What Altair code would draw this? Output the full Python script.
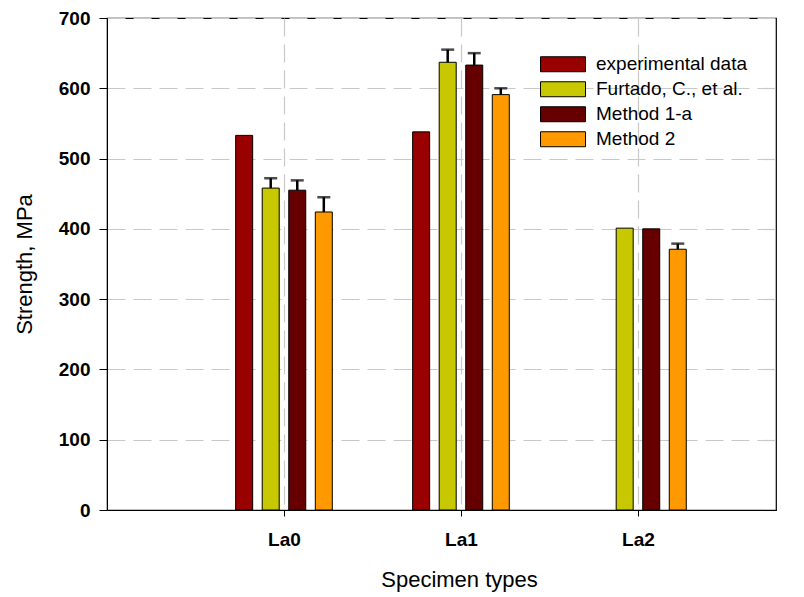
import altair as alt
import pandas as pd

groups = ["La0", "La1", "La2"]
series = ["experimental data", "Furtado, C., et al.", "Method 1-a", "Method 2"]
colors = ["#990000", "#C8C800", "#660000", "#FF9900"]

exp_vals = [533, 538, None]
furtado_vals = [458, 637, 401]
furtado_err = [472, 655, None]
m1a_vals = [455, 633, 400]
m1a_err = [469, 650, None]
m2_vals = [424, 591, 371]
m2_err = [445, 600, 379]

offsets = [-0.225, -0.075, 0.075, 0.225]
half_w = 0.048

rows = []
all_vals = [exp_vals, furtado_vals, m1a_vals, m2_vals]
all_errs = [[None, None, None], furtado_err, m1a_err, m2_err]
for si, s in enumerate(series):
    for gi, g in enumerate(groups):
        v = all_vals[si][gi]
        if v is None:
            continue
        c = gi + 1 + offsets[si]
        rows.append({"series": s, "group": g, "value": v, "err": all_errs[si][gi],
                     "xc": c, "xl": c - half_w, "xr": c + half_w})
df = pd.DataFrame(rows)

xscale = alt.Scale(domain=[0, 3.78], nice=False, zero=False)
yscale = alt.Scale(domain=[0, 700], nice=False)

label_expr = "datum.value == 1 ? 'La0' : datum.value == 2 ? 'La1' : datum.value == 3 ? 'La2' : ''"

bars = alt.Chart(df).mark_rect(stroke="black", strokeWidth=1).encode(
    x=alt.X("xl:Q", scale=xscale, axis=alt.Axis(
        values=[1, 2, 3], labelExpr=label_expr, title="Specimen types",
        grid=True, gridDash=[18, 8], gridColor="#c8c8c8", gridWidth=1.2,
        labelFont="Liberation Sans", labelFontWeight="bold", labelFontSize=19,
        labelColor="black", labelPadding=14,
        titleFont="Liberation Sans", titleFontWeight="normal", titleFontSize=22,
        titleColor="black", titlePadding=20, titleX=352, titleAlign="center",
        domainColor="black", tickColor="black", tickSize=6)),
    x2="xr:Q",
    y=alt.Y("value:Q", scale=yscale, axis=alt.Axis(
        values=[0, 100, 200, 300, 400, 500, 600, 700], title="Strength, MPa",
        grid=True, gridDash=[18, 8], gridColor="#c8c8c8", gridWidth=1.2,
        labelFont="Liberation Sans", labelFontWeight="bold", labelFontSize=19,
        labelColor="black", labelPadding=9,
        titleFont="Liberation Sans", titleFontWeight="normal", titleFontSize=22,
        titleColor="black", titlePadding=22,
        domainColor="black", tickColor="black", tickSize=8)),
    y2=alt.datum(0),
    color=alt.Color("series:N", scale=alt.Scale(domain=series, range=colors),
                    legend=alt.Legend(
                        title=None, orient="none", legendX=433, legendY=34,
                        symbolType="M-1,-0.333H1V0.333H-1Z", symbolSize=2025,
                        symbolStrokeColor="black", symbolStrokeWidth=1,
                        clipHeight=24.5, rowPadding=0,
                        labelFont="Liberation Sans", labelFontSize=19,
                        labelColor="black", labelOffset=10)),
)

errdf = df.dropna(subset=["err"])
err_rule = alt.Chart(errdf).mark_rule(color="black", strokeWidth=2.5).encode(
    x=alt.X("xc:Q", scale=xscale),
    y=alt.Y("value:Q", scale=yscale),
    y2="err:Q",
)
err_cap = alt.Chart(errdf).mark_tick(color="black", thickness=2.5, size=13, orient="horizontal").encode(
    x=alt.X("xc:Q", scale=xscale),
    y=alt.Y("err:Q", scale=yscale),
)

chart = alt.layer(bars, err_rule, err_cap).properties(
    width=669, height=492,
    padding={"left": 107, "top": 18, "right": 28, "bottom": 87},
    autosize=alt.AutoSizeParams(type="none"),
    background="white",
).configure_view(stroke="black", strokeWidth=1.2)

chart.save("out.html", embed_options={"renderer": "svg", "actions": False})
